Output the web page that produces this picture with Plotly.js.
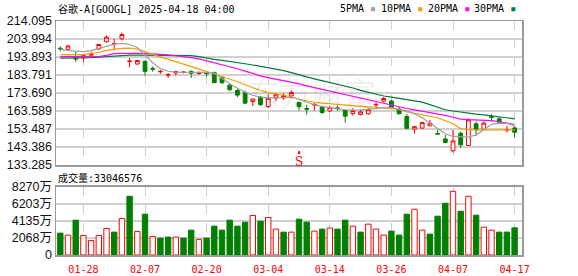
<!DOCTYPE html>
<html>
<head>
<meta charset="utf-8">
<script src="https://cdn.plot.ly/plotly-3.0.1.min.js"></script>
<style>
  html, body { margin: 0; padding: 0; background: #ffffff; }
  #chart { width: 578px; height: 276px; }
</style>
</head>
<body>
<div id="chart"></div>
<script>
// GOOGL daily K-line, 2025-01-23 .. 2025-04-17
const dates = [
  '2025-01-23','2025-01-24','2025-01-27','2025-01-28','2025-01-29','2025-01-30','2025-01-31',
  '2025-02-03','2025-02-04','2025-02-05','2025-02-06','2025-02-07','2025-02-10','2025-02-11',
  '2025-02-12','2025-02-13','2025-02-14','2025-02-18','2025-02-19','2025-02-20','2025-02-21',
  '2025-02-24','2025-02-25','2025-02-26','2025-02-27','2025-02-28','2025-03-03','2025-03-04',
  '2025-03-05','2025-03-06','2025-03-07','2025-03-10','2025-03-11','2025-03-12','2025-03-13',
  '2025-03-14','2025-03-17','2025-03-18','2025-03-19','2025-03-20','2025-03-21','2025-03-24',
  '2025-03-25','2025-03-26','2025-03-27','2025-03-28','2025-03-31','2025-04-01','2025-04-02',
  '2025-04-03','2025-04-04','2025-04-07','2025-04-08','2025-04-09','2025-04-10','2025-04-11',
  '2025-04-14','2025-04-15','2025-04-16','2025-04-17'
];

const open = [
  198.8, 198.2, 193.1, 193.4, 194.9, 198.4, 202.4, 201.2, 204.1, 191.3,
  190.0, 191.5, 187.4, 185.6, 183.7, 184.9, 185.2, 185.8, 184.7, 185.1,
  185.1, 182.3, 178.1, 175.1, 174.0, 168.9, 171.4, 166.1, 170.8, 170.9,
  172.0, 168.4, 165.0, 166.9, 165.8, 163.6, 165.3, 163.9, 162.2, 161.6,
  162.0, 167.0, 169.2, 169.2, 164.7, 160.5, 153.4, 154.0, 155.3, 151.0,
  147.9, 141.3, 151.1, 144.2, 156.4, 153.4, 160.4, 159.2, 152.9, 154.1
];
const high = [
  199.9, 200.7, 196.8, 195.0, 196.8, 201.3, 206.1, 204.1, 207.6, 193.4,
  192.3, 191.8, 188.6, 186.8, 184.9, 186.2, 185.9, 186.4, 185.7, 186.0,
  185.8, 182.8, 178.9, 176.1, 175.1, 170.5, 172.1, 172.9, 173.7, 173.7,
  175.1, 168.9, 167.1, 168.2, 166.2, 166.5, 166.5, 164.2, 165.2, 164.3,
  165.2, 168.4, 171.4, 169.9, 165.8, 161.8, 155.2, 157.3, 158.6, 153.0,
  150.2, 153.0, 152.1, 159.6, 157.7, 157.7, 161.8, 160.0, 155.2, 155.2
];
const low = [
  197.1, 198.0, 191.1, 191.1, 194.7, 198.0, 202.0, 198.1, 203.1, 188.1,
  189.5, 183.4, 185.7, 184.4, 182.1, 183.5, 184.7, 182.1, 183.9, 183.0,
  179.3, 179.0, 174.6, 171.4, 167.7, 166.5, 166.5, 165.2, 168.9, 169.9,
  170.6, 163.9, 161.6, 163.9, 162.0, 163.0, 163.6, 157.1, 160.9, 161.1,
  161.6, 165.2, 168.4, 164.7, 161.8, 153.4, 150.9, 153.6, 155.0, 150.3,
  145.5, 140.2, 143.0, 144.0, 149.6, 153.0, 157.7, 156.6, 151.5, 148.7
];
const close = [
  198.5, 200.1, 192.8, 194.8, 195.4, 200.9, 205.0, 201.4, 206.5, 191.6,
  191.9, 185.8, 187.1, 185.8, 183.9, 185.8, 185.4, 184.8, 184.9, 184.6,
  179.5, 179.4, 175.6, 172.5, 168.0, 170.3, 167.1, 170.7, 172.7, 172.3,
  174.0, 166.1, 164.6, 167.3, 162.7, 165.6, 165.0, 160.7, 163.9, 163.1,
  164.3, 167.3, 170.6, 165.2, 162.0, 153.9, 154.8, 157.1, 156.8, 150.7,
  145.9, 146.8, 144.6, 158.6, 153.0, 156.8, 160.0, 157.3, 153.1, 151.7
];

// volume, shares
const volume = [
  26620000, 24200000, 42360000, 23800000, 17750000, 23800000, 32270000, 27830000, 44370000, 71400000,
  28640000, 49620000, 22590000, 20570000, 21780000, 21780000, 20570000, 30250000, 18960000, 20570000,
  35100000, 30250000, 42360000, 35100000, 39940000, 48000000, 41150000, 45580000, 31470000, 27830000,
  27830000, 43570000, 39940000, 29040000, 31470000, 32680000, 31470000, 42360000, 35100000, 27830000,
  37520000, 31470000, 24200000, 29040000, 24200000, 49620000, 55670000, 30250000, 25410000, 47200000,
  62930000, 77450000, 53250000, 71400000, 48410000, 33890000, 30250000, 27830000, 27830000, 33046576
];

// moving averages of close
const ma5 = [
  198.3, 197.5, 197.2, 196.9, 197.5, 198.6, 200.0, 201.1, 201.5, 200.9,
  199.2, 195.2, 190.7, 187.4, 185.9, 185.4, 185.4, 185.4, 185.4, 185.3,
  184.8, 181.7, 178.9, 176.4, 174.1, 172.4, 171.4, 170.9, 170.8, 171.1,
  171.4, 170.2, 168.5, 167.1, 166.2, 165.4, 164.8, 164.3, 164.0, 164.2,
  164.4, 164.9, 165.4, 165.5, 164.5, 163.7, 162.0, 159.8, 156.9, 153.6,
  150.8, 149.3, 148.9, 148.9, 150.2, 153.3, 156.1, 156.8, 156.7, 155.0
];
const ma10 = [
  195.2, 195.2, 195.2, 195.2, 195.8, 196.4, 197.6, 198.3, 198.7, 198.9,
  198.3, 196.9, 195.2, 193.8, 192.7, 191.3, 189.6, 188.1, 186.8, 185.7,
  184.5, 183.1, 181.7, 180.0, 178.3, 176.7, 175.1, 174.0, 173.1, 172.3,
  171.6, 170.2, 169.3, 168.5, 168.0, 167.6, 167.3, 167.1, 166.8, 166.2,
  165.9, 165.7, 165.4, 165.1, 164.5, 163.1, 162.3, 161.7, 161.0, 159.8,
  158.1, 156.4, 153.6, 153.1, 153.0, 153.0, 153.0, 152.9, 153.0, 153.0
];
const ma20 = [
  194.1, 194.1, 194.1, 194.1, 194.1, 194.1, 194.8, 195.8, 195.9, 196.0,
  196.0, 195.9, 195.7, 195.5, 195.1, 194.6, 194.2, 193.5, 192.8, 191.7,
  190.6, 189.6, 188.7, 187.3, 186.0, 184.6, 183.3, 182.3, 181.5, 180.7,
  179.9, 178.8, 177.7, 176.7, 175.6, 174.7, 173.7, 172.8, 171.9, 171.0,
  169.9, 168.9, 167.9, 166.9, 166.0, 165.0, 164.2, 163.5, 162.8, 161.9,
  161.1, 160.1, 159.0, 158.7, 158.5, 158.4, 158.2, 157.5, 156.8, 156.0
];
const ma30 = [
  193.3, 193.3, 193.3, 193.3, 193.5, 193.8, 194.1, 194.4, 194.9, 194.9,
  194.9, 194.9, 194.9, 194.9, 194.9, 194.7, 194.7, 194.7, 194.1, 193.2,
  192.6, 192.0, 191.5, 190.9, 190.1, 189.4, 188.7, 187.9, 187.1, 186.2,
  185.1, 184.1, 182.7, 181.6, 180.6, 179.6, 178.7, 177.6, 176.5, 175.2,
  174.0, 172.8, 172.0, 171.4, 170.7, 170.2, 169.3, 168.6, 167.2, 165.7,
  164.3, 163.6, 162.9, 162.3, 161.8, 161.4, 160.8, 160.3, 159.7, 159.2
];

const tickDates  = ['2025-01-28','2025-02-07','2025-02-20','2025-03-04','2025-03-14','2025-03-26','2025-04-07','2025-04-17'];
const tickLabels = ['01-28','02-07','02-20','03-04','03-14','03-26','04-07','04-17'];

const priceTicks     = [133.285, 143.386, 153.487, 163.589, 173.690, 183.791, 193.893, 203.994, 214.095];
const priceTickText  = ['133.285','143.386','153.487','163.589','173.690','183.791','193.893','203.994','214.095'];
const volumeTicks    = [0, 20680000, 41350000, 62030000, 82700000];
const volumeTickText = ['0','2068万','4135万','6203万','8270万'];

const RED = '#ff0000';
const GREEN = '#008000';

// volume bar colour follows the day's change against the previous close
const volUp = close.map((c, i) => i === 0 ? c >= open[0] : c >= close[i - 1]);
const volFill = volUp.map(u => u ? '#ffffff' : GREEN);
const volLine = volUp.map(u => u ? RED : GREEN);

const monoFont = '"DejaVu Sans Mono", "Noto Sans CJK SC", monospace';
const sansFont = '"Liberation Sans", Arial, "Noto Sans CJK SC", sans-serif';

const traces = [
  {
    type: 'candlestick', x: dates, open: open, high: high, low: low, close: close,
    xaxis: 'x', yaxis: 'y', whiskerwidth: 0,
    increasing: { line: { color: RED, width: 1 }, fillcolor: '#ffffff' },
    decreasing: { line: { color: GREEN, width: 1 }, fillcolor: GREEN },
    hoverinfo: 'skip'
  },
  { type: 'scatter', mode: 'lines', x: dates, y: ma30, xaxis: 'x', yaxis: 'y',
    line: { color: '#007a3d', width: 1.2 }, hoverinfo: 'skip' },
  { type: 'scatter', mode: 'lines', x: dates, y: ma20, xaxis: 'x', yaxis: 'y',
    line: { color: '#ff00ff', width: 1.2 }, hoverinfo: 'skip' },
  { type: 'scatter', mode: 'lines', x: dates, y: ma10, xaxis: 'x', yaxis: 'y',
    line: { color: '#f0a000', width: 1.2 }, hoverinfo: 'skip' },
  { type: 'scatter', mode: 'lines', x: dates, y: ma5, xaxis: 'x', yaxis: 'y',
    line: { color: '#a0a0a0', width: 1.2 }, hoverinfo: 'skip' },
  {
    type: 'bar', x: dates, y: volume, xaxis: 'x2', yaxis: 'y2',
    marker: { color: volFill, line: { color: volLine, width: 1 } },
    hoverinfo: 'skip'
  }
];

const frame = { showline: true, mirror: true, linecolor: '#9a9a9a', linewidth: 1.5, zeroline: false, fixedrange: true };

const px = v => (v - 56) / 466;        // horizontal pixel -> paper
const py = v => (255 - v) / 234;       // vertical pixel -> paper

const legendItem = (label, color, x) => ({
  xref: 'paper', yref: 'paper', x: px(x), y: py(9), xanchor: 'left', yanchor: 'middle',
  showarrow: false, text: label + ' <span style="color:' + color + '">▪</span>',
  font: { family: monoFont, size: 10, color: '#000000' }
});

const layout = {
  width: 578, height: 276,
  margin: { l: 56, r: 56, t: 21, b: 21, pad: 0 },
  paper_bgcolor: '#ffffff', plot_bgcolor: '#ffffff',
  showlegend: false, bargap: 0.3,
  xaxis: Object.assign({}, frame, {
    type: 'category', anchor: 'y', range: [-0.56, 59.96],
    rangeslider: { visible: false },
    tickmode: 'array', tickvals: tickDates, ticktext: tickLabels, showticklabels: false,
    showgrid: true, gridcolor: '#cfcfcf', griddash: 'dash', gridwidth: 1, ticks: ''
  }),
  xaxis2: Object.assign({}, frame, {
    type: 'category', anchor: 'y2', matches: 'x', range: [-0.56, 59.96],
    tickmode: 'array', tickvals: tickDates, ticktext: tickLabels,
    showgrid: true, gridcolor: '#cfcfcf', griddash: 'dash', gridwidth: 1, ticks: '',
    ticklabelstandoff: 4,
    tickfont: { family: monoFont, size: 10, color: RED }
  }),
  yaxis: Object.assign({}, frame, {
    domain: [0.3846, 1], anchor: 'x', range: [133.285, 214.095],
    tickmode: 'array', tickvals: priceTicks, ticktext: priceTickText,
    showgrid: true, gridcolor: '#d0d0d0', gridwidth: 1.2, ticks: '',
    tickfont: { family: sansFont, size: 12.5, color: '#111111' }
  }),
  yaxis2: Object.assign({}, frame, {
    domain: [0, 0.2906], anchor: 'x2', range: [0, 82700000],
    tickmode: 'array', tickvals: volumeTicks, ticktext: volumeTickText,
    showgrid: true, gridcolor: '#d0d0d0', gridwidth: 1.2, ticks: '',
    tickfont: { family: sansFont, size: 12.5, color: '#111111' }
  }),
  annotations: [
    { xref: 'paper', yref: 'paper', x: px(312), y: py(92), xanchor: 'center', yanchor: 'middle',
      showarrow: false, text: '东方财富',
      font: { family: '"Noto Sans CJK SC", sans-serif', size: 32, color: 'rgba(0,0,0,0.07)' } },
    { xref: 'paper', yref: 'paper', x: px(56), y: py(9), xanchor: 'left', yanchor: 'middle',
      showarrow: false, text: '谷歌-A[GOOGL] 2025-04-18 04:00',
      font: { family: monoFont, size: 10, color: '#000000' } },
    legendItem('5PMA', '#a0a0a0', 338),
    legendItem('10PMA', '#f0a000', 379),
    legendItem('20PMA', '#ff00ff', 426),
    legendItem('30PMA', '#007a3d', 472),
    { xref: 'paper', yref: 'paper', x: px(56), y: py(178), xanchor: 'left', yanchor: 'middle',
      showarrow: false, text: '成交量:33046576',
      font: { family: monoFont, size: 10, color: '#000000' } },
    { xref: 'x', yref: 'y', x: '2025-03-10', y: 140.2, xanchor: 'center', yanchor: 'top',
      showarrow: false, text: 'S',
      font: { family: '"DejaVu Serif", serif', size: 12, color: RED } },
    { xref: 'x', yref: 'y', x: '2025-03-10', y: 141.6, ax: 0, ay: 5,
      showarrow: true, arrowhead: 2, arrowsize: 0.7, arrowwidth: 1, arrowcolor: RED, text: '' }
  ]
};

Plotly.newPlot('chart', traces, layout, { staticPlot: true, displayModeBar: false });
</script>
</body>
</html>
